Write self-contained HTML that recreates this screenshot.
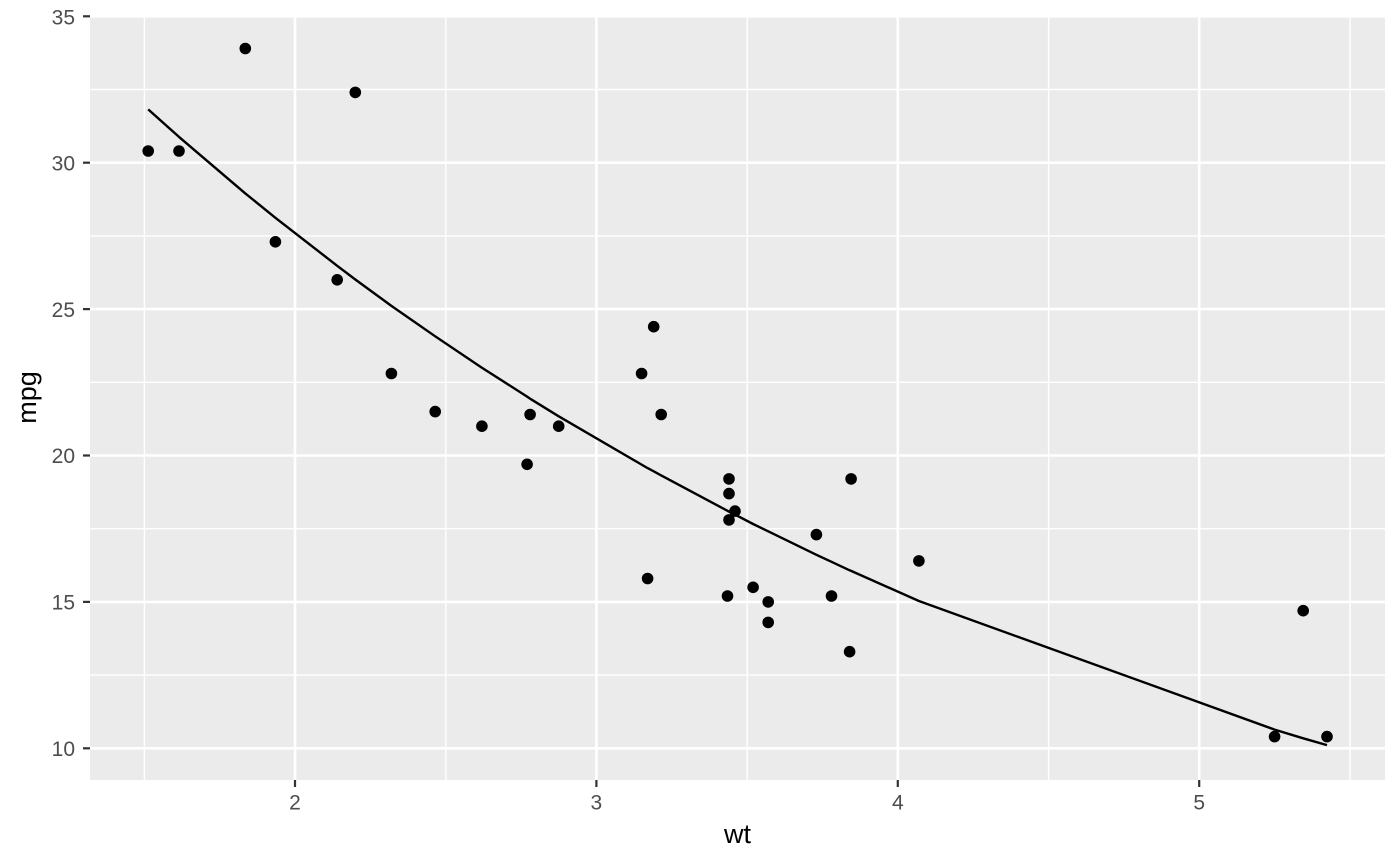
<!DOCTYPE html>
<html>
<head>
<meta charset="utf-8">
<style>
html,body{margin:0;padding:0;background:#fff;}
svg{display:block;}
text{font-family:"Liberation Sans",Arial,sans-serif;}
</style>
</head>
<body>
<svg width="1400" height="866" viewBox="0 0 1400 866" xmlns="http://www.w3.org/2000/svg">
<rect x="0" y="0" width="1400" height="866" fill="#ffffff"/>
<!-- panel -->
<rect x="90" y="15" width="1295" height="765" fill="#EBEBEB"/>
<!-- minor grid -->
<g stroke="#ffffff" stroke-width="1.4" fill="none">
<line x1="144.4" y1="15" x2="144.4" y2="780"/>
<line x1="445.8" y1="15" x2="445.8" y2="780"/>
<line x1="747.2" y1="15" x2="747.2" y2="780"/>
<line x1="1048.6" y1="15" x2="1048.6" y2="780"/>
<line x1="1350" y1="15" x2="1350" y2="780"/>
<line x1="90" y1="675.1" x2="1385" y2="675.1"/>
<line x1="90" y1="528.7" x2="1385" y2="528.7"/>
<line x1="90" y1="382.3" x2="1385" y2="382.3"/>
<line x1="90" y1="235.9" x2="1385" y2="235.9"/>
<line x1="90" y1="89.5" x2="1385" y2="89.5"/>
</g>
<!-- major grid -->
<g stroke="#ffffff" stroke-width="2.6" fill="none">
<line x1="295" y1="15" x2="295" y2="780"/>
<line x1="596.4" y1="15" x2="596.4" y2="780"/>
<line x1="897.8" y1="15" x2="897.8" y2="780"/>
<line x1="1199.2" y1="15" x2="1199.2" y2="780"/>
<line x1="90" y1="748.3" x2="1385" y2="748.3"/>
<line x1="90" y1="601.9" x2="1385" y2="601.9"/>
<line x1="90" y1="455.5" x2="1385" y2="455.5"/>
<line x1="90" y1="309.1" x2="1385" y2="309.1"/>
<line x1="90" y1="162.7" x2="1385" y2="162.7"/>
<line x1="90" y1="16.3" x2="1385" y2="16.3"/>
</g>
<!-- points -->
<g fill="#000000">
<circle cx="148.2" cy="151.0" r="5.8"/>
<circle cx="179.0" cy="151.0" r="5.8"/>
<circle cx="245.3" cy="48.5" r="5.8"/>
<circle cx="275.4" cy="241.8" r="5.8"/>
<circle cx="337.2" cy="279.8" r="5.8"/>
<circle cx="355.3" cy="92.4" r="5.8"/>
<circle cx="391.4" cy="373.5" r="5.8"/>
<circle cx="435.2" cy="411.6" r="5.8"/>
<circle cx="481.9" cy="426.2" r="5.8"/>
<circle cx="527.1" cy="464.3" r="5.8"/>
<circle cx="530.1" cy="414.5" r="5.8"/>
<circle cx="558.7" cy="426.2" r="5.8"/>
<circle cx="641.6" cy="373.5" r="5.8"/>
<circle cx="647.6" cy="578.5" r="5.8"/>
<circle cx="653.7" cy="326.7" r="5.8"/>
<circle cx="661.2" cy="414.5" r="5.8"/>
<circle cx="727.5" cy="596.0" r="5.8"/>
<circle cx="729.0" cy="493.6" r="5.8"/>
<circle cx="729.0" cy="478.9" r="5.8"/>
<circle cx="729.0" cy="519.9" r="5.8"/>
<circle cx="735.0" cy="511.1" r="5.8"/>
<circle cx="753.1" cy="587.3" r="5.8"/>
<circle cx="768.2" cy="622.4" r="5.8"/>
<circle cx="768.2" cy="601.9" r="5.8"/>
<circle cx="816.4" cy="534.6" r="5.8"/>
<circle cx="831.5" cy="596.0" r="5.8"/>
<circle cx="849.6" cy="651.7" r="5.8"/>
<circle cx="851.1" cy="478.9" r="5.8"/>
<circle cx="918.9" cy="560.9" r="5.8"/>
<circle cx="1274.6" cy="736.6" r="5.8"/>
<circle cx="1303.2" cy="610.7" r="5.8"/>
<circle cx="1327.0" cy="736.6" r="5.8"/>
</g>
<!-- fitted line -->
<polyline fill="none" stroke="#000000" stroke-width="2.4" stroke-linejoin="round" points="148.2,109.4 179.0,136.9 245.3,193.4 275.4,217.8 337.2,265.8 355.3,279.5 391.4,305.9 435.2,336.3 481.9,367.7 527.1,396.6 530.1,398.7 558.7,416.3 641.6,464.6 647.6,468.1 653.7,471.3 661.2,475.4 727.5,510.8 729.0,511.7 735.0,514.6 753.1,524.0 768.2,531.3 816.4,554.8 831.5,561.8 849.6,570.3 851.1,570.9 918.9,601.0 1274.6,729.6 1303.2,738.3 1327.0,745.1"/>
<!-- ticks -->
<g stroke="#333333" stroke-width="2.2">
<line x1="83" y1="748.3" x2="90" y2="748.3"/>
<line x1="83" y1="601.9" x2="90" y2="601.9"/>
<line x1="83" y1="455.5" x2="90" y2="455.5"/>
<line x1="83" y1="309.1" x2="90" y2="309.1"/>
<line x1="83" y1="162.7" x2="90" y2="162.7"/>
<line x1="83" y1="16.3" x2="90" y2="16.3"/>
<line x1="295" y1="780" x2="295" y2="787"/>
<line x1="596.4" y1="780" x2="596.4" y2="787"/>
<line x1="897.8" y1="780" x2="897.8" y2="787"/>
<line x1="1199.2" y1="780" x2="1199.2" y2="787"/>
</g>
<!-- y tick labels -->
<g fill="#4D4D4D" font-size="21" text-anchor="end">
<text x="75" y="756">10</text>
<text x="75" y="609.6">15</text>
<text x="75" y="463.2">20</text>
<text x="75" y="316.8">25</text>
<text x="75" y="170.4">30</text>
<text x="75" y="24.5">35</text>
</g>
<!-- x tick labels -->
<g fill="#4D4D4D" font-size="21" text-anchor="middle">
<text x="295" y="809.3">2</text>
<text x="596.4" y="809.3">3</text>
<text x="897.8" y="809.3">4</text>
<text x="1199.2" y="809.3">5</text>
</g>
<!-- axis titles -->
<text x="737.5" y="843" font-size="27" text-anchor="middle" fill="#000000">wt</text>
<text x="0" y="0" font-size="27" text-anchor="middle" fill="#000000" transform="translate(36,397.5) rotate(-90)">mpg</text>
</svg>
</body>
</html>
